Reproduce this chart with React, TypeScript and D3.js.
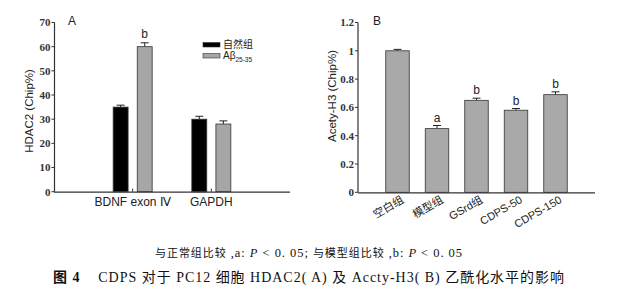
import React from "react";
import * as d3 from "d3";

// ---- Data ----
const groupsA = ["BDNF exon Ⅳ", "GAPDH"];
const seriesA = ["自然组", "Aβ25-35"];
const naturalValues = [35, 30];
const naturalErrors = [0.8, 1.2];
const abetaValues = [60, 28];
const abetaErrors = [1.6, 1.3];
const sigA = ["b", ""];
const ticksA = [0, 10, 20, 30, 40, 50, 60, 70];

const groupsB = ["空白组", "模型组", "GSrd组", "CDPS-50", "CDPS-150"];
const valuesB = [1.0, 0.45, 0.65, 0.58, 0.69];
const errorsB = [0.01, 0.022, 0.015, 0.012, 0.02];
const sigB = ["", "a", "b", "b", "b"];
const ticksB = [0, 0.2, 0.4, 0.6, 0.8, 1, 1.2];

const SANS = "'Liberation Sans', Arial, sans-serif";
const SERIF = "'Liberation Serif', 'Times New Roman', serif";
const CJK = "'Noto Sans CJK SC', sans-serif";

export default function App() {
  const W = 644, H = 303;

  // Panel A scales
  const xA = d3.scalePoint<string>().domain(groupsA).range([54, 290]).padding(1);
  const subA = d3.scaleBand<string>().domain(seriesA).range([-19.5, 19.5]).paddingInner(0.38);
  const yA = d3.scaleLinear().domain([0, 70]).range([191.7, 22.5]);
  const colorsA = ["#000000", "#a6a6a6"];
  const seriesVals = [naturalValues, abetaValues];
  const seriesErrs = [naturalErrors, abetaErrors];

  // Panel B scales
  const xB = d3.scalePoint<string>().domain(groupsB).range([358, 595]).padding(1);
  const bwB = 23.5;
  const yB = d3.scaleLinear().domain([0, 1.2]).range([192.3, 22.5]);
  const fmtB = (v: number) => (v === 0 ? "0" : d3.format("~g")(v));

  const axisColor = "#333";

  return (
    <svg width={W} height={H} style={{ position: "absolute", left: 0, top: 0, background: "#fff" }}>
      {/* ===== Panel A ===== */}
      <g>
        {groupsA.map((g, gi) =>
          seriesA.map((s, si) => {
            const x0 = (xA(g) as number) + (subA(s) as number);
            const bw = subA.bandwidth();
            const v = seriesVals[si][gi];
            const e = seriesErrs[si][gi];
            const cx = x0 + bw / 2;
            return (
              <g key={g + s}>
                <line x1={cx} x2={cx} y1={yA(v)} y2={yA(v + e)} stroke="#222" strokeWidth={1} />
                <line x1={cx - 4} x2={cx + 4} y1={yA(v + e)} y2={yA(v + e)} stroke="#222" strokeWidth={1} />
                <rect x={x0} y={yA(v)} width={bw} height={yA(0) - yA(v)} fill={colorsA[si]} stroke="#333" strokeWidth={0.8} />
              </g>
            );
          })
        )}
        {groupsA.map((g, gi) =>
          sigA[gi] ? (
            <text key={"sa" + g} x={(xA(g) as number) + (subA(seriesA[1]) as number) + subA.bandwidth() / 2}
              y={yA(abetaValues[gi] + abetaErrors[gi]) - 5} textAnchor="middle" fontFamily={SANS} fontSize={12} fill="#222">
              {sigA[gi]}
            </text>
          ) : null
        )}
        <line x1={54.5} x2={54.5} y1={yA(70)} y2={yA(0)} stroke={axisColor} strokeWidth={1.2} />
        <line x1={54} x2={290} y1={yA(0) + 0.5} y2={yA(0) + 0.5} stroke={axisColor} strokeWidth={1.2} />
        {ticksA.map((t) => (
          <g key={"ta" + t}>
            <line x1={51.5} x2={54.5} y1={yA(t)} y2={yA(t)} stroke={axisColor} strokeWidth={1} />
            <text x={50.5} y={yA(t)} dy="0.35em" textAnchor="end" fontFamily={SERIF} fontWeight="bold" fontSize={11} fill="#333">
              {t}
            </text>
          </g>
        ))}
        {groupsA.map((g) => (
          <g key={"xa" + g}>
            <line x1={xA(g)} x2={xA(g)} y1={yA(0)} y2={yA(0) - 3} stroke={axisColor} strokeWidth={1} />
            <text x={xA(g)} y={206} textAnchor="middle" fontFamily={SANS} fontSize={12} fill="#222">{g}</text>
          </g>
        ))}
        <text transform="translate(33,111) rotate(-90)" textAnchor="middle" fontFamily={SANS} fontSize={11.5} fill="#222">
          HDAC2 (Chip%)
        </text>
        <text x={68} y={25} fontFamily={SANS} fontSize={12} fill="#222">A</text>
        {seriesA.map((s, si) => (
          <g key={"lg" + s} transform={`translate(203,${42.5 + si * 11})`}>
            <rect x={0} y={0} width={17} height={4.5} fill={colorsA[si]} stroke="#333" strokeWidth={0.6} />
            {si === 0 ? (
              <text x={20} y={5.5} fontFamily={CJK} fontSize={10} fill="#222">{s}</text>
            ) : (
              <text x={20} y={5.5} fontFamily={SANS} fontSize={10} fill="#222">
                Aβ<tspan fontSize={6.5} dy={2.5}>25-35</tspan>
              </text>
            )}
          </g>
        ))}
      </g>

      {/* ===== Panel B ===== */}
      <g>
        {groupsB.map((g, i) => {
          const cx = xB(g) as number;
          const v = valuesB[i];
          const e = errorsB[i];
          return (
            <g key={"b" + g}>
              <line x1={cx} x2={cx} y1={yB(v)} y2={yB(v + e)} stroke="#222" strokeWidth={1} />
              <line x1={cx - 4} x2={cx + 4} y1={yB(v + e)} y2={yB(v + e)} stroke="#222" strokeWidth={1} />
              <rect x={cx - bwB / 2} y={yB(v)} width={bwB} height={yB(0) - yB(v)} fill="#a9a9a9" stroke="#333" strokeWidth={0.8} />
              {sigB[i] ? (
                <text x={cx} y={yB(v + e) - 4} textAnchor="middle" fontFamily={SANS} fontSize={12} fill="#222">{sigB[i]}</text>
              ) : null}
              <text transform={`translate(${cx + 7},${202}) rotate(-30)`} textAnchor="end" fontFamily={i < 3 ? `${SANS}, ${CJK}` : SANS}
                fontSize={11} fill="#222">{g}</text>
            </g>
          );
        })}
        <line x1={358} x2={358} y1={yB(1.2)} y2={yB(0)} stroke={axisColor} strokeWidth={1.2} />
        <line x1={358} x2={595} y1={yB(0) + 0.5} y2={yB(0) + 0.5} stroke={axisColor} strokeWidth={1.2} />
        {ticksB.map((t) => (
          <g key={"tb" + t}>
            <line x1={355} x2={358} y1={yB(t)} y2={yB(t)} stroke={axisColor} strokeWidth={1} />
            <text x={354} y={yB(t)} dy="0.35em" textAnchor="end" fontFamily={SERIF} fontWeight="bold" fontSize={11} fill="#333">
              {fmtB(t)}
            </text>
          </g>
        ))}
        <text transform="translate(336,96) rotate(-90)" textAnchor="middle" fontFamily={SANS} fontSize={11.5} fill="#222">
          Acety-H3 (Chip%)
        </text>
        <text x={373} y={25} fontFamily={SANS} fontSize={12} fill="#222">B</text>
      </g>

      {/* ===== Caption ===== */}
      <text x={155} y={257} fill="#111" textLength={307} lengthAdjust="spacing" style={{ whiteSpace: "pre" }}>
        <tspan fontFamily={CJK} fontSize={11}>与正常组比较</tspan>
        <tspan fontFamily={SERIF} fontSize={12.5}>{" ,a: "}</tspan>
        <tspan fontFamily={SERIF} fontSize={12.5} fontStyle="italic">P</tspan>
        <tspan fontFamily={SERIF} fontSize={12.5}>{" < 0. 05; "}</tspan>
        <tspan fontFamily={CJK} fontSize={11}>与模型组比较</tspan>
        <tspan fontFamily={SERIF} fontSize={12.5}>{" ,b: "}</tspan>
        <tspan fontFamily={SERIF} fontSize={12.5} fontStyle="italic">P</tspan>
        <tspan fontFamily={SERIF} fontSize={12.5}>{" < 0. 05"}</tspan>
      </text>
      <text x={53} y={282} fontSize={14} fill="#111" textLength={511} lengthAdjust="spacing" style={{ whiteSpace: "pre" }}>
        <tspan fontFamily={CJK} fontWeight="bold">图</tspan>
        <tspan fontFamily={SERIF} fontWeight="bold">{" 4"}</tspan>
        <tspan fontFamily={SERIF}>{"    CDPS "}</tspan>
        <tspan fontFamily={CJK}>对于</tspan>
        <tspan fontFamily={SERIF}>{" PC12 "}</tspan>
        <tspan fontFamily={CJK}>细胞</tspan>
        <tspan fontFamily={SERIF}>{" HDAC2( A) "}</tspan>
        <tspan fontFamily={CJK}>及</tspan>
        <tspan fontFamily={SERIF}>{" Accty-H3( B) "}</tspan>
        <tspan fontFamily={CJK}>乙酰化水平的影响</tspan>
      </text>
    </svg>
  );
}
